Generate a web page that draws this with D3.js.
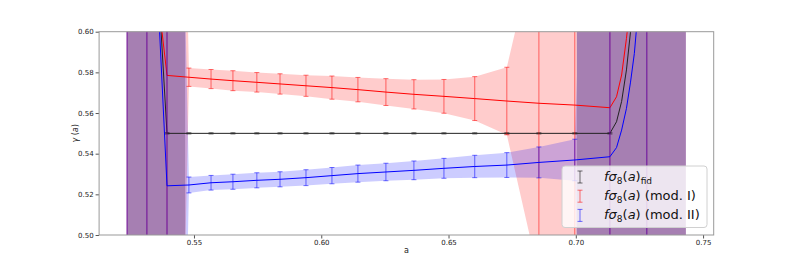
<!DOCTYPE html>
<html>
<head>
<meta charset="utf-8">
<script src="https://cdn.jsdelivr.net/npm/d3@7"></script>
<style>
  body { margin: 0; background: #fff; }
  svg { display: block; font-family: "DejaVu Sans", sans-serif; }
</style>
</head>
<body>
<svg id="chart" width="793" height="264"></svg>
<script>

// scale factor a at every sample (error-bar points plus a few extra points on the steep rise)
var aVals = [0.5237, 0.5315, 0.5394, 0.5480, 0.5567, 0.5653, 0.5747, 0.5838, 0.5940, 0.6042,
  0.6144, 0.6254, 0.6364, 0.6482, 0.6603, 0.6729, 0.6855, 0.6996, 0.7134,
  0.7160, 0.7180, 0.7199, 0.7215, 0.7230,
  0.7279, 0.7432];

// fiducial
var fidVals = [0.90, 0.72, 0.55, 0.55, 0.55, 0.55, 0.55, 0.55, 0.55, 0.55,
  0.55, 0.55, 0.55, 0.55, 0.55, 0.55, 0.55, 0.55, 0.55,
  0.5557, 0.5657, 0.5812, 0.600, 0.625,
  0.70, 0.95];
var fidErr = [0.0003, 0.0003, 0.0003, 0.0003, 0.0003, 0.0003, 0.0003, 0.0003, 0.0003, 0.0003,
  0.0003, 0.0003, 0.0003, 0.0003, 0.0003, 0.0003, 0.0003, 0.0003, 0.0003,
  null, null, null, null, null,
  0.0003, 0.0003];

// model I
var mod1Vals = [0.80, 0.665, 0.5785, 0.5776, 0.5767, 0.5759, 0.5751, 0.5743, 0.5734, 0.5725,
  0.5715, 0.5703, 0.5692, 0.5682, 0.5671, 0.5659, 0.5648, 0.5639, 0.5626,
  0.5680, 0.5787, 0.5967, 0.615, 0.635,
  0.71, 0.95];
var mod1Err = [0.5, 0.5, 0.5, 0.0045, 0.0047, 0.0049, 0.0048, 0.0050, 0.0052, 0.0057,
  0.0060, 0.0066, 0.0072, 0.0083, 0.0108, 0.0166, 0.085, 0.3, 0.5,
  null, null, null, null, null,
  0.5, 0.5];

// model II
var mod2Vals = [0.92, 0.73, 0.5242, 0.5246, 0.5257, 0.5262, 0.5269, 0.5274, 0.5282, 0.5292,
  0.5302, 0.5310, 0.5318, 0.5328, 0.5337, 0.5344, 0.5357, 0.5369, 0.5385,
  0.5430, 0.5516, 0.5623, 0.5752, 0.5893,
  0.66, 0.90];
var mod2Err = [0.5, 0.5, 0.5, 0.0039, 0.0036, 0.0037, 0.0037, 0.0037, 0.0039, 0.0040,
  0.0042, 0.0043, 0.0046, 0.0049, 0.0055, 0.0061, 0.0076, 0.0102, 0.5,
  null, null, null, null, null,
  0.5, 0.5];

// ranges where both models are unconstrained
var wideSpans = [[0.5237, 0.5465], [0.7004, 0.7432]];

var xTicks = [0.55, 0.60, 0.65, 0.70, 0.75];
var yTicks = [0.50, 0.52, 0.54, 0.56, 0.58, 0.60];
var legendSubs = ['fid', '', ''];
var legendTails = ['', ' (mod. I)', ' (mod. II)'];
var legendColors = ['black', 'red', 'blue'];

var svg, g, x, y;
var box = { left: 99.1, right: 713.7, top: 31.7, bottom: 235 };

document.addEventListener('DOMContentLoaded', function () {
  svg = d3.select('#chart');
  drawChart();
});

function toRows(vals, errs) {
  return aVals.map(function (a, i) {
    return { a: a, v: vals[i], e: errs[i], last: i === aVals.length - 1 };
  });
}

function drawChart() {
  var ext = d3.extent(aVals);
  var pad = (ext[1] - ext[0]) * 0.05;
  x = d3.scaleLinear().domain([ext[0] - pad, ext[1] + pad]).range([box.left, box.right]);
  y = d3.scaleLinear().domain([0.50, 0.60]).range([box.bottom, box.top]);

  svg.append('defs').append('clipPath').attr('id', 'clip')
    .append('rect')
    .attr('x', box.left).attr('y', box.top)
    .attr('width', box.right - box.left).attr('height', box.bottom - box.top);

  g = svg.append('g').attr('clip-path', 'url(#clip)');

  drawBand(mod1Vals, mod1Err, 'red');
  drawBand(mod2Vals, mod2Err, 'blue');

  g.selectAll('rect.wide')
    .data(wideSpans)
    .enter()
    .append('rect')
    .attr('class', 'wide')
    .attr('x', d => x(d[0]))
    .attr('width', d => x(d[1]) - x(d[0]))
    .attr('y', box.top - 5)
    .attr('height', box.bottom - box.top + 10)
    .attr('fill', '#a67fb2');

  drawSeries(fidVals, fidErr, 'black', '#222');
  drawSeries(mod1Vals, mod1Err, 'red', 'red');
  drawSeries(mod2Vals, mod2Err, 'blue', 'blue');

  drawAxes();
  drawLegend();
}

function drawBand(vals, errs, color) {
  var rows = toRows(vals, errs).filter(d => d.e != null);
  var area = d3.area()
    .x(d => x(d.a))
    .y0(d => y(d.v - d.e))
    .y1(d => y(d.v + d.e));
  g.append('path')
    .datum(rows)
    .attr('d', area)
    .attr('fill', color)
    .attr('fill-opacity', 0.2);
}

function drawSeries(vals, errs, barColor, lineColor) {
  var rows = toRows(vals, errs);
  // the reference shows no bar on the last sample
  var bars = rows.filter(d => d.e != null && !d.last);
  var eb = g.append('g').attr('stroke', barColor).attr('stroke-opacity', 0.55).attr('stroke-width', 1);
  eb.selectAll('line.stem')
    .data(bars)
    .enter()
    .append('line')
    .attr('x1', d => x(d.a)).attr('x2', d => x(d.a))
    .attr('y1', d => y(d.v - d.e)).attr('y2', d => y(d.v + d.e));
  [-1, 1].forEach(function (s) {
    eb.selectAll('line.cap' + s)
      .data(bars)
      .enter()
      .append('line')
      .attr('x1', d => x(d.a) - 2.5).attr('x2', d => x(d.a) + 2.5)
      .attr('y1', d => y(d.v + s * d.e)).attr('y2', d => y(d.v + s * d.e));
  });

  var line = d3.line().x(d => x(d.a)).y(d => y(d.v));
  g.append('path')
    .datum(rows)
    .attr('d', line)
    .attr('fill', 'none')
    .attr('stroke', lineColor)
    .attr('stroke-width', 1);
}

function drawAxes() {
  var xAxis = svg.append('g')
    .attr('transform', 'translate(0,' + box.bottom + ')')
    .call(d3.axisBottom(x).tickValues(xTicks).tickFormat(d3.format('.2f')).tickSize(3.5).tickPadding(2));
  var yAxis = svg.append('g')
    .attr('transform', 'translate(' + box.left + ',0)')
    .call(d3.axisLeft(y).tickValues(yTicks).tickFormat(d3.format('.2f')).tickSize(3.5).tickPadding(2));
  [xAxis, yAxis].forEach(function (ax) {
    ax.select('.domain').remove();
    ax.selectAll('line').attr('stroke', '#555');
    ax.selectAll('text').attr('font-size', 7).attr('fill', '#222').attr('font-family', 'DejaVu Sans');
  });

  svg.append('rect')
    .attr('x', box.left).attr('y', box.top)
    .attr('width', box.right - box.left).attr('height', box.bottom - box.top)
    .attr('fill', 'none')
    .attr('stroke', '#999')
    .attr('stroke-width', 1);

  svg.append('text')
    .attr('x', (box.left + box.right) / 2)
    .attr('y', 253)
    .attr('text-anchor', 'middle')
    .attr('font-size', 8)
    .attr('fill', '#222')
    .text('a');

  var yl = svg.append('text')
    .attr('transform', 'translate(78,' + ((box.top + box.bottom) / 2) + ') rotate(-90)')
    .attr('text-anchor', 'middle')
    .attr('font-size', 8)
    .attr('fill', '#222');
  yl.append('tspan').attr('font-style', 'italic').text('γ');
  yl.append('tspan').text(' (');
  yl.append('tspan').attr('font-style', 'italic').text('a');
  yl.append('tspan').text(')');
}

function drawLegend() {
  var lg = svg.append('g');
  lg.append('rect')
    .attr('x', 562).attr('y', 166)
    .attr('width', 145).attr('height', 61.5)
    .attr('rx', 3)
    .attr('fill', 'white')
    .attr('fill-opacity', 0.8)
    .attr('stroke', '#d0d0d0')
    .attr('stroke-width', 1);

  legendColors.forEach(function (c, i) {
    var cy = 177 + i * 19.2;
    var gl = lg.append('g').attr('stroke', c).attr('stroke-opacity', 0.55).attr('stroke-width', 1);
    gl.append('line').attr('x1', 580).attr('x2', 580).attr('y1', cy - 6).attr('y2', cy + 6);
    gl.append('line').attr('x1', 577.5).attr('x2', 582.5).attr('y1', cy - 6).attr('y2', cy - 6);
    gl.append('line').attr('x1', 577.5).attr('x2', 582.5).attr('y1', cy + 6).attr('y2', cy + 6);

    var t = lg.append('text')
      .attr('x', 604)
      .attr('y', cy + 4)
      .attr('font-size', 13)
      .attr('fill', '#111');
    t.append('tspan').attr('font-style', 'italic').text('fσ');
    t.append('tspan').attr('font-size', 9).attr('dy', 3).text('8');
    t.append('tspan').attr('dy', -3).text('(');
    t.append('tspan').attr('font-style', 'italic').text('a');
    t.append('tspan').text(')');
    if (legendSubs[i]) {
      t.append('tspan').attr('font-size', 9).attr('dy', 3).text(legendSubs[i]);
    }
    if (legendTails[i]) {
      t.append('tspan').text(legendTails[i]);
    }
  });
}

</script>
</body>
</html>
